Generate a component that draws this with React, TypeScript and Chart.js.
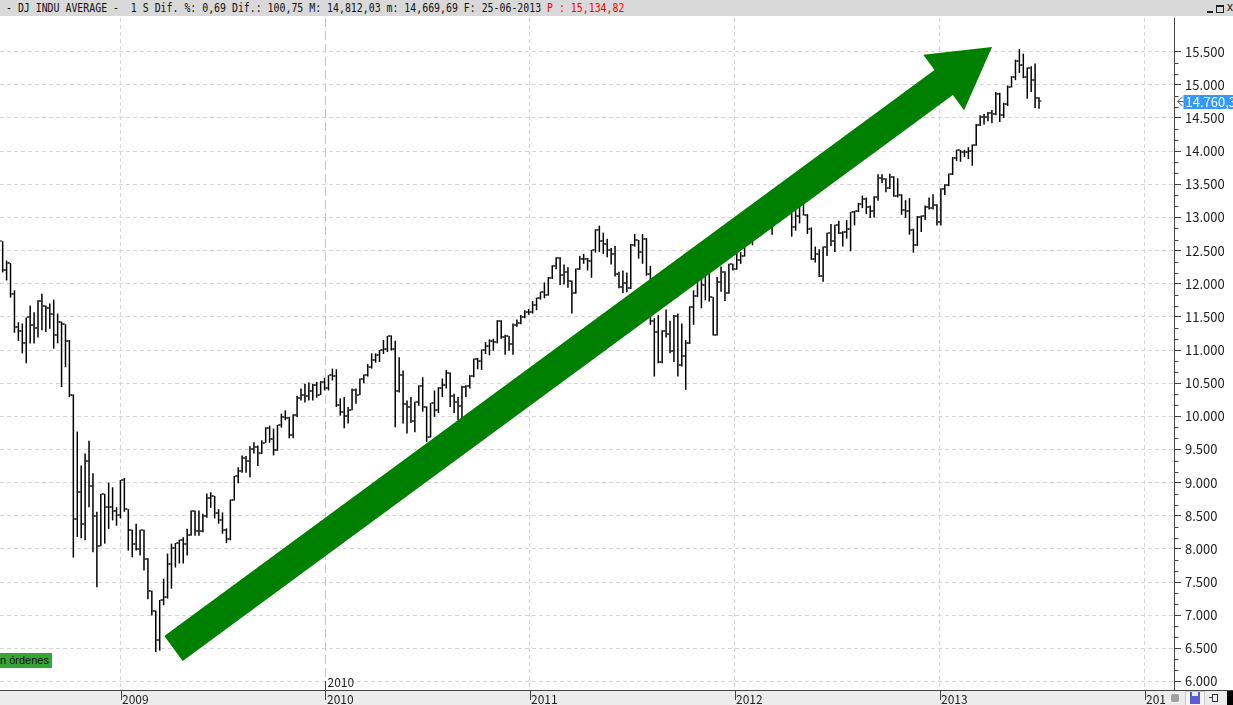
import React, { useEffect, useRef } from 'react';
import { Chart, registerables } from 'chart.js';

Chart.register(...registerables);

// ---- data (weekly OHLC, Dow Jones Industrial Average) ----
const FIRST_WEEK = '2008-06-04T00:00:00Z';

const OPEN = [
  12638, 12209, 12307, 11843, 11346, 11288, 11100, 11496, 11370, 11326,
  11734, 11659, 11628, 11543, 11220, 11421, 11388, 11143, 10325, 8451,
  8852, 8378, 9325, 8943, 8497, 8046, 8829, 8635, 8629, 8579,
  8515, 9034, 8599, 8281, 8077, 8001, 8280, 7850, 7366, 7063,
  6627, 7224, 7279, 7776, 8018, 8083, 8131, 8076, 8212, 8575,
  8268, 8277, 8500, 8764, 8799, 8539, 8438, 8280, 8146, 8743,
  9093, 9172, 9370, 9321, 9505, 9544, 9441, 9605, 9820, 9665,
  9488, 9865, 9996, 9972, 9713, 10023, 10271, 10318, 10310, 10389,
  10472, 10329, 10520, 10428, 10618, 10610, 10173, 10067, 10012, 10099,
  10403, 10325, 10567, 10625, 10742, 10851, 10927, 10997, 11019, 11204,
  11009, 10380, 10620, 10193, 10137, 9931, 10211, 10450, 10144, 9686,
  10198, 10097, 10425, 10466, 10653, 10303, 10214, 10150, 10448, 10463,
  10607, 10860, 10829, 11006, 11063, 11133, 11118, 11445, 11193, 11204,
  11092, 11382, 11410, 11492, 11573, 11578, 11675, 11787, 11872, 11824,
  12092, 12273, 12391, 12130, 12170, 12044, 11859, 12221, 12377, 12380,
  12342, 12505, 12810, 12638, 12596, 12512, 12441, 12151, 11952, 12004,
  11934, 12582, 12657, 12480, 12681, 12143, 11445, 11269, 10818, 11285,
  11240, 10992, 11509, 10771, 10913, 11103, 11644, 11809, 12231, 11983,
  12153, 11796, 11231, 12019, 12184, 11866, 12294, 12218, 12360, 12422,
  12720, 12660, 12862, 12801, 12950, 12983, 12978, 12922, 13233, 13081,
  13212, 13060, 12850, 13029, 13228, 13038, 12820, 12369, 12454, 12119,
  12554, 12767, 12640, 12880, 12772, 12777, 12822, 13075, 13096, 13207,
  13275, 13157, 13090, 13306, 13593, 13579, 13437, 13610, 13328, 13343,
  13107, 13093, 12815, 12588, 13010, 13026, 13155, 13135, 13190, 12938,
  13435, 13488, 13650, 13896, 14010, 13993, 13982, 14001, 14090, 14397,
  14515, 14512, 14579, 14565, 14865, 14547, 14712, 14974, 15118, 15354,
  15303, 15116, 15248, 15070, 14799,
];

const HIGH = [
  12640, 12350, 12310, 11900, 11420, 11400, 11490, 11670, 11570, 11750,
  11850, 11670, 11700, 11760, 11550, 11430, 11390, 11150, 10330, 9770,
  9260, 9440, 9630, 9140, 8560, 8830, 8830, 9000, 8930, 8630,
  9040, 9070, 8600, 8290, 8380, 8290, 8290, 7860, 7370, 7070,
  7230, 7550, 7930, 8080, 8090, 8140, 8175, 8305, 8580, 8580,
  8580, 8530, 8835, 8855, 8800, 8600, 8550, 8310, 8745, 9100,
  9230, 9410, 9400, 9550, 9610, 9560, 9640, 9835, 9860, 9815,
  9870, 10040, 10090, 9990, 10030, 10310, 10420, 10490, 10510, 10490,
  10520, 10530, 10580, 10620, 10720, 10710, 10270, 10290, 10140, 10420,
  10420, 10570, 10630, 10790, 10950, 10950, 11000, 11150, 11210, 11220,
  11140, 10890, 10690, 10240, 10290, 10220, 10470, 10590, 10150, 10200,
  10390, 10440, 10570, 10700, 10660, 10340, 10290, 10460, 10470, 10620,
  10870, 10880, 11010, 11120, 11160, 11170, 11450, 11450, 11230, 11210,
  11400, 11460, 11530, 11600, 11620, 11740, 11790, 11880, 12020, 12100,
  12280, 12400, 12400, 12290, 12250, 12050, 12230, 12420, 12450, 12390,
  12510, 12820, 12876, 12770, 12680, 12540, 12570, 12180, 12200, 12170,
  12600, 12750, 12660, 12750, 12690, 12270, 11480, 11530, 11300, 11610,
  11440, 11530, 11550, 11400, 11150, 11660, 11900, 12280, 12240, 12160,
  12190, 11800, 12100, 12260, 12190, 12300, 12300, 12480, 12480, 12730,
  12760, 12870, 12900, 12960, 13010, 13060, 12990, 13270, 13290, 13240,
  13300, 13070, 13110, 13250, 13340, 13050, 12850, 12560, 12520, 12560,
  12770, 12900, 12890, 12950, 12790, 12960, 13080, 13100, 13220, 13330,
  13300, 13180, 13320, 13650, 13650, 13590, 13660, 13620, 13590, 13350,
  13260, 13290, 12830, 13020, 13030, 13180, 13300, 13350, 13200, 13440,
  13500, 13660, 13910, 14020, 14020, 14020, 14060, 14100, 14410, 14540,
  14560, 14590, 14620, 14890, 14880, 14730, 14990, 15130, 15380, 15540,
  15470, 15260, 15280, 15320, 14812,
];

const LOW = [
  12170, 12050, 11790, 11260, 11140, 10950, 10800, 11100, 11100, 11190,
  11300, 11270, 11320, 11020, 11100, 10440, 10740, 10290, 7870, 8180,
  8160, 8130, 8630, 7950, 7420, 8040, 8080, 8300, 8430, 8350,
  8460, 8560, 7975, 7875, 7975, 7900, 7675, 7240, 6995, 6445,
  6467, 7150, 7250, 7400, 7720, 7780, 7780, 7900, 8200, 8200,
  8200, 8250, 8470, 8620, 8460, 8380, 8230, 8087, 8130, 8730,
  8990, 9150, 9150, 9080, 9440, 9250, 9430, 9600, 9600, 9410,
  9480, 9830, 9940, 9670, 9670, 9990, 10240, 10210, 10240, 10240,
  10280, 10320, 10390, 10390, 10540, 10140, 10010, 9820, 9890, 10090,
  10190, 10320, 10500, 10600, 10720, 10810, 10820, 10940, 10970, 10990,
  9835, 10360, 9890, 9740, 9900, 9760, 10160, 10070, 9614, 9680,
  9990, 10050, 10290, 10420, 10140, 10050, 9940, 9930, 10290, 10420,
  10590, 10710, 10700, 10940, 10920, 10990, 11100, 11170, 10930, 10990,
  10930, 11350, 11390, 11480, 11530, 11550, 11600, 11760, 11780, 11820,
  12070, 12220, 11980, 11990, 11940, 11550, 11850, 12210, 12300, 12200,
  12090, 12470, 12480, 12450, 12400, 12290, 12110, 11930, 11860, 11870,
  11920, 12560, 12380, 12300, 12120, 11380, 10600, 10800, 10800, 11190,
  10950, 10820, 10600, 10750, 10400, 11090, 11380, 11800, 11630, 11750,
  11730, 11220, 11220, 11880, 11740, 11850, 12200, 12210, 12300, 12410,
  12590, 12580, 12780, 12740, 12920, 12910, 12740, 12910, 13040, 13010,
  13040, 12710, 12800, 12910, 13030, 12750, 12360, 12320, 12100, 12030,
  12420, 12570, 12480, 12750, 12560, 12680, 12490, 12880, 13080, 13140,
  13050, 12990, 13000, 13250, 13520, 13380, 13430, 13310, 13300, 13040,
  12990, 12740, 12470, 12570, 12780, 12960, 13120, 13120, 12880, 12880,
  13340, 13470, 13640, 13850, 13840, 13910, 13880, 13780, 14080, 14380,
  14400, 14450, 14420, 14540, 14440, 14500, 14680, 14960, 15070, 15180,
  15100, 14790, 14890, 14650, 14640,
];

const CLOSE = [
  12209, 12307, 11843, 11346, 11288, 11100, 11496, 11370, 11326, 11734,
  11659, 11628, 11543, 11220, 11421, 11388, 11143, 10325, 8451, 8852,
  8378, 9325, 8943, 8497, 8046, 8829, 8635, 8629, 8579, 8515,
  9034, 8599, 8281, 8077, 8001, 8280, 7850, 7366, 7063, 6627,
  7224, 7279, 7776, 8018, 8083, 8131, 8076, 8212, 8575, 8268,
  8277, 8500, 8764, 8799, 8539, 8438, 8280, 8146, 8743, 9093,
  9172, 9370, 9321, 9505, 9544, 9441, 9605, 9820, 9665, 9488,
  9865, 9996, 9972, 9713, 10023, 10271, 10318, 10310, 10389, 10472,
  10329, 10520, 10428, 10618, 10610, 10173, 10067, 10012, 10099, 10403,
  10325, 10567, 10625, 10742, 10851, 10927, 10997, 11019, 11204, 11009,
  10380, 10620, 10193, 10137, 9931, 10211, 10450, 10144, 9686, 10198,
  10097, 10425, 10466, 10653, 10303, 10214, 10150, 10448, 10463, 10607,
  10860, 10829, 11006, 11063, 11133, 11118, 11445, 11193, 11204, 11092,
  11382, 11410, 11492, 11573, 11578, 11675, 11787, 11872, 11824, 12092,
  12273, 12391, 12130, 12170, 12044, 11859, 12221, 12377, 12380, 12342,
  12505, 12810, 12638, 12596, 12512, 12441, 12151, 11952, 12004, 11934,
  12582, 12657, 12480, 12681, 12143, 11445, 11269, 10818, 11285, 11240,
  10992, 11509, 10771, 10913, 11103, 11644, 11809, 12231, 11983, 12153,
  11796, 11231, 12019, 12184, 11866, 12294, 12218, 12360, 12422, 12720,
  12660, 12862, 12801, 12950, 12983, 12978, 12922, 13233, 13081, 13212,
  13060, 12850, 13029, 13228, 13038, 12820, 12369, 12454, 12119, 12554,
  12767, 12640, 12880, 12772, 12777, 12822, 13075, 13096, 13207, 13275,
  13157, 13090, 13306, 13593, 13579, 13437, 13610, 13328, 13343, 13107,
  13093, 12815, 12588, 13010, 13026, 13155, 13135, 13190, 12938, 13435,
  13488, 13650, 13896, 14010, 13993, 13982, 14001, 14090, 14397, 14515,
  14512, 14579, 14565, 14865, 14547, 14712, 14974, 15118, 15354, 15303,
  15116, 15248, 15070, 14799, 14760.3,
];

const YEAR_TICKS = [2009, 2010, 2011, 2012, 2013, 2014];
const DECADE_YEAR = 2010;
const PRICE_TICKS = [
  6000, 6500, 7000, 7500, 8000, 8500, 9000, 9500, 10000, 10500,
  11000, 11500, 12000, 12500, 13000, 13500, 14000, 14500, 15000, 15500,
];
const ARROW_FROM = ['2009-04-04T14:00:00Z', 6498] as const;
const ARROW_TO = ['2013-04-03T05:00:00Z', 15570] as const;

const TITLE_MAIN = '- DJ INDU AVERAGE -  1 S Dif. %: 0,69 Dif.: 100,75 M: 14,812,03 m: 14,669,69 F: 25-06-2013 ';
const TITLE_PRICE = 'P : 15,134,82';
const ORDERS_LABEL = 'n órdenes';

// ---- axis range (layout) ----
const X_MIN_DATE = '2008-05-30T05:30:00Z';
const X_MAX_DATE = '2014-02-21T17:00:00Z';
const Y_MIN = 5872;
const Y_MAX = 16008;

const ORIGIN = Date.UTC(2008, 0, 1);
const dayOf = (iso: string) => (Date.parse(iso) - ORIGIN) / 86400000;
const BAR_X = OPEN.map((_, i) => dayOf(FIRST_WEEK) + 7 * i);
const YEAR_X = YEAR_TICKS.map((y) => dayOf(`${y}-01-01T00:00:00Z`));

const fmtThousands = (v: number) =>
  Math.round(v).toString().replace(/\B(?=(\d{3})+(?!\d))/g, '.');
const fmtPrice = (v: number) =>
  `${fmtThousands(Math.floor(v))},${Math.round((v % 1) * 10)}`;

const FONT = '"Noto Sans CJK KR", "Liberation Sans", sans-serif';

const extras: any = {
  id: 'extras',
  beforeDraw(chart: any) {
    const { ctx, chartArea: ca, width, height } = chart;
    ctx.save();
    ctx.fillStyle = '#ffffff';
    ctx.fillRect(0, 0, width, height);
    ctx.fillStyle = '#ececec';
    ctx.fillRect(0, ca.bottom, width, height - ca.bottom);
    ctx.restore();
  },
  beforeDatasetsDraw(chart: any) {
    const { ctx, chartArea: ca } = chart;
    const xs = chart.scales.x;
    ctx.save();
    ctx.beginPath();
    ctx.rect(ca.left, ca.top, ca.right - ca.left, ca.bottom - ca.top);
    ctx.clip();
    ctx.lineWidth = 1;
    YEAR_TICKS.forEach((y, k) => {
      const px = Math.round(xs.getPixelForValue(YEAR_X[k])) - 0.5;
      const decade = y === DECADE_YEAR;
      ctx.strokeStyle = decade ? '#c4c4c4' : '#d6d6d6';
      ctx.setLineDash(decade ? [9, 4] : [4, 3]);
      ctx.beginPath();
      ctx.moveTo(px, ca.top);
      ctx.lineTo(px, ca.bottom);
      ctx.stroke();
    });
    ctx.restore();
  },
  afterDatasetsDraw(chart: any) {
    const { ctx, chartArea: ca, width } = chart;
    const xs = chart.scales.x;
    const ys = chart.scales.y;
    ctx.save();
    ctx.beginPath();
    ctx.rect(ca.left, ca.top, ca.right - ca.left, ca.bottom - ca.top);
    ctx.clip();
    // open / close ticks
    ctx.fillStyle = '#000';
    for (let i = 0; i < OPEN.length; i++) {
      const x = xs.getPixelForValue(BAR_X[i]);
      const yo = Math.round(ys.getPixelForValue(OPEN[i]));
      const yc = Math.round(ys.getPixelForValue(CLOSE[i]));
      ctx.fillRect(x - 2.6, yo - 0.5, 2, 1);
      ctx.fillRect(x + 0.6, yc - 0.5, 2, 1);
    }
    // trend arrow
    const p0x = xs.getPixelForValue(dayOf(ARROW_FROM[0]));
    const p0y = ys.getPixelForValue(ARROW_FROM[1]);
    const p1x = xs.getPixelForValue(dayOf(ARROW_TO[0]));
    const p1y = ys.getPixelForValue(ARROW_TO[1]);
    const dx = p1x - p0x;
    const dy = p1y - p0y;
    const len = Math.hypot(dx, dy);
    const ux = dx / len;
    const uy = dy / len;
    const nx = -uy;
    const ny = ux;
    const shaft = 15.5;
    const head = 34.5;
    const headLen = 60;
    const sx = p1x - ux * headLen;
    const sy = p1y - uy * headLen;
    ctx.fillStyle = '#008000';
    ctx.beginPath();
    ctx.moveTo(p0x + nx * shaft, p0y + ny * shaft);
    ctx.lineTo(sx + nx * shaft, sy + ny * shaft);
    ctx.lineTo(sx + nx * head, sy + ny * head);
    ctx.lineTo(p1x, p1y);
    ctx.lineTo(sx - nx * head, sy - ny * head);
    ctx.lineTo(sx - nx * shaft, sy - ny * shaft);
    ctx.lineTo(p0x - nx * shaft, p0y - ny * shaft);
    ctx.closePath();
    ctx.fill();
    // decade marker inside the plot
    const dk = YEAR_TICKS.indexOf(DECADE_YEAR);
    const dpx = Math.round(xs.getPixelForValue(YEAR_X[dk])) - 0.5;
    ctx.strokeStyle = '#444';
    ctx.lineWidth = 1;
    ctx.beginPath();
    ctx.moveTo(dpx, ca.bottom - 9);
    ctx.lineTo(dpx, ca.bottom);
    ctx.stroke();
    ctx.fillStyle = '#222';
    ctx.font = `12px ${FONT}`;
    ctx.textBaseline = 'alphabetic';
    ctx.textAlign = 'left';
    ctx.fillText(String(DECADE_YEAR), dpx + 2, ca.bottom - 3);
    ctx.restore();

    ctx.save();
    // x labels
    ctx.fillStyle = '#222';
    ctx.font = `12px ${FONT}`;
    ctx.textAlign = 'left';
    ctx.textBaseline = 'alphabetic';
    YEAR_TICKS.forEach((y, k) => {
      const px = Math.round(xs.getPixelForValue(YEAR_X[k]));
      ctx.fillText(String(y), px + 1, ca.bottom + 13.5);
    });
    // full-width x axis line
    ctx.strokeStyle = '#444';
    ctx.lineWidth = 1;
    ctx.beginPath();
    ctx.moveTo(0, Math.round(ca.bottom) + 0.5);
    ctx.lineTo(width, Math.round(ca.bottom) + 0.5);
    ctx.stroke();
    // minor y ticks
    const rx = Math.round(ca.right) + 0.5;
    ctx.beginPath();
    for (let k = 0; k < PRICE_TICKS.length - 1; k++) {
      const step = (PRICE_TICKS[k + 1] - PRICE_TICKS[k]) / 3;
      for (let m = 1; m <= 2; m++) {
        const py = Math.round(ys.getPixelForValue(PRICE_TICKS[k] + step * m)) + 0.5;
        ctx.moveTo(rx, py);
        ctx.lineTo(rx + 4, py);
      }
    }
    ctx.stroke();
    // last price marker
    const last = CLOSE[CLOSE.length - 1];
    const ly = Math.round(ys.getPixelForValue(last));
    ctx.strokeStyle = '#555';
    ctx.beginPath();
    ctx.moveTo(rx + 8, ly - 4);
    ctx.lineTo(rx + 3, ly + 0.5);
    ctx.lineTo(rx + 8, ly + 5);
    ctx.moveTo(rx + 3, ly + 0.5);
    ctx.lineTo(rx + 9, ly + 0.5);
    ctx.stroke();
    ctx.fillStyle = '#3399ff';
    ctx.fillRect(rx + 9, ly - 6, 60, 14);
    ctx.fillStyle = '#ffffff';
    ctx.font = `13px ${FONT}`;
    ctx.textBaseline = 'middle';
    ctx.fillText(fmtPrice(last), rx + 11, ly + 1);
    ctx.restore();
  },
};

export default function App() {
  const ref = useRef<HTMLCanvasElement>(null);
  useEffect(() => {
    const canvas = ref.current;
    if (!canvas) return;
    const chart = new Chart(canvas, {
      type: 'bar',
      data: {
        datasets: [
          {
            data: LOW.map((l, i) => ({ x: BAR_X[i], y: [l, HIGH[i]] })) as any,
            backgroundColor: '#000',
            borderWidth: 0,
            barThickness: 1.5,
            inflateAmount: 0,
            grouped: false,
          } as any,
        ],
      },
      options: {
        animation: false,
        responsive: false,
        devicePixelRatio: 1,
        events: [],
        layout: { padding: { top: 18, left: 0, right: 0, bottom: 0 } },
        plugins: { legend: { display: false }, tooltip: { enabled: false } },
        scales: {
          x: {
            type: 'linear',
            min: dayOf(X_MIN_DATE),
            max: dayOf(X_MAX_DATE),
            offset: false,
            afterBuildTicks: (s: any) => {
              s.ticks = YEAR_X.map((v) => ({ value: v }));
            },
            afterFit: (s: any) => {
              s.height = 15;
            },
            ticks: { display: false },
            grid: {
              offset: false,
              drawOnChartArea: false,
              drawTicks: true,
              tickLength: 10,
              tickColor: '#444',
            },
            border: { display: true, color: '#444', width: 1 },
          },
          y: {
            type: 'linear',
            position: 'right',
            min: Y_MIN,
            max: Y_MAX,
            beginAtZero: false,
            afterBuildTicks: (s: any) => {
              s.ticks = PRICE_TICKS.map((v) => ({ value: v }));
            },
            afterFit: (s: any) => {
              s.width = 59;
            },
            ticks: {
              callback: (v: any) => fmtThousands(Number(v)),
              font: { family: FONT, size: 13 },
              color: '#222',
              padding: 4,
              autoSkip: false,
            },
            grid: {
              color: '#d6d6d6',
              drawTicks: true,
              tickLength: 7,
              tickColor: '#444',
            },
            border: { display: true, color: '#444', width: 1, dash: [4, 3] },
          },
        },
      } as any,
      plugins: [extras],
    });
    let alive = true;
    if ((document as any).fonts && (document as any).fonts.ready) {
      (document as any).fonts.ready.then(() => {
        if (alive) chart.update();
      });
    }
    return () => {
      alive = false;
      chart.destroy();
    };
  }, []);

  return (
    <div
      style={{
        position: 'fixed',
        left: 0,
        top: 0,
        width: 1233,
        height: 705,
        overflow: 'hidden',
        background: '#fff',
      }}
    >
      <canvas
        ref={ref}
        width={1233}
        height={705}
        style={{ position: 'absolute', left: 0, top: 0, width: 1233, height: 705 }}
      />
      {/* title bar */}
      <div
        style={{
          position: 'absolute',
          left: 0,
          top: 0,
          width: 1233,
          height: 16,
          background: '#d9d9d9',
          overflow: 'hidden',
        }}
      >
        <div
          style={{
            position: 'absolute',
            left: 6,
            top: 0,
            height: 16,
            lineHeight: '16px',
            fontFamily: '"DejaVu Sans Mono", "Liberation Mono", monospace',
            fontSize: 12,
            whiteSpace: 'pre',
            color: '#111',
            transform: 'scaleX(0.823)',
            transformOrigin: '0 0',
          }}
        >
          {TITLE_MAIN}
          <span style={{ color: '#ff0000' }}>{TITLE_PRICE}</span>
        </div>
        <div style={{ position: 'absolute', left: 1207, top: 11, width: 6, height: 2, background: '#222' }} />
        <div
          style={{
            position: 'absolute',
            left: 1216,
            top: 5,
            width: 6,
            height: 5,
            border: '1px solid #222',
            borderTop: '2px solid #222',
          }}
        />
        <div
          style={{
            position: 'absolute',
            left: 1227,
            top: 0,
            fontFamily: '"Liberation Sans", sans-serif',
            fontSize: 12,
            lineHeight: '15px',
            color: '#222',
          }}
        >
          x
        </div>
      </div>
      {/* orders label */}
      <div
        style={{
          position: 'absolute',
          left: 0,
          top: 653,
          width: 52,
          height: 15,
          background: '#36a536',
          color: '#111',
          fontFamily: '"Liberation Sans", sans-serif',
          fontSize: 11,
          lineHeight: '15px',
          whiteSpace: 'nowrap',
          overflow: 'hidden',
        }}
      >
        {ORDERS_LABEL}
      </div>
      {/* bottom-right tool icons */}
      <div
        style={{
          position: 'absolute',
          left: 1166,
          top: 691,
          width: 67,
          height: 14,
          background: '#ececec',
        }}
      >
        <div style={{ position: 'absolute', left: 5, top: 3, width: 8, height: 8, background: '#a0a0a0', borderRadius: 2 }} />
        <div
          style={{
            position: 'absolute',
            left: 19,
            top: 0,
            width: 18,
            height: 13,
            background: '#f6f6f6',
            border: '1px solid #c8c8c8',
          }}
        />
        <div style={{ position: 'absolute', left: 24, top: 1, width: 10, height: 12, background: '#5b5bd6' }} />
        <div style={{ position: 'absolute', left: 26, top: 1, width: 6, height: 4, background: '#e8e8ff' }} />
        <div style={{ position: 'absolute', left: 43, top: 6, width: 3, height: 1, background: '#333' }} />
        <div style={{ position: 'absolute', left: 46, top: 3, width: 4, height: 6, border: '1px solid #333' }} />
        <div style={{ position: 'absolute', left: 61, top: 0, width: 6, height: 14, background: '#000' }} />
      </div>
    </div>
  );
}
